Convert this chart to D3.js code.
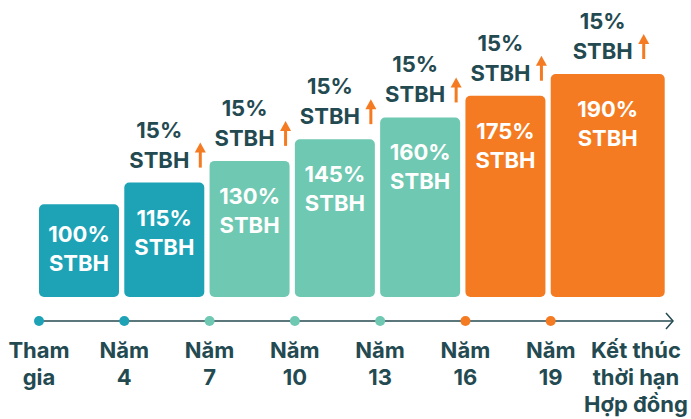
<!DOCTYPE html>
<html>
<head>
<meta charset="utf-8">
<script src="https://cdn.jsdelivr.net/npm/d3@7"></script>
<style>
  html, body { margin: 0; padding: 0; background: #fff; }
  svg { display: block; font-family: Inter, "Open Sans", sans-serif; font-weight: 700; }
</style>
</head>
<body>
<div id="chart"></div>
<script>
(function () {
    const W = 691, H = 419;

    // Data
    const stages = ["Tham gia", "Năm 4", "Năm 7", "Năm 10", "Năm 13", "Năm 16", "Năm 19", "Kết thúc thời hạn Hợp đồng"];
    const stageLines = [["Tham", "gia"], ["Năm", "4"], ["Năm", "7"], ["Năm", "10"], ["Năm", "13"], ["Năm", "16"], ["Năm", "19"], ["Kết thúc", "thời hạn", "Hợp đồng"]];
    const benefit = [100, 115, 130, 145, 160, 175, 190];
    const benefitGroup = ["a", "a", "b", "b", "b", "c", "c"];
    const stepLabel = "15%";
    const unit = "STBH";

    const color = d3.scaleOrdinal()
        .domain(["a", "b", "c"])
        .range(["#1ea3b6", "#6fc8b2", "#f47b22"]);
    const dark = "#244a51";
    const accent = "#f47b22";
    const fs = 22;

    const baseY = 297, axisY = 321;
    const x = d3.scaleLinear().domain([0, stages.length - 1]).range([39, 636]);
    const y = d3.scaleLinear().domain([36, 190]).range([baseY, 74]);
    const barW = i => (i === benefit.length - 1 ? 114 : 80);

    const svg = d3.select("#chart")
        .append("svg")
        .attr("width", W)
        .attr("height", H);

    // === Bars ===
    const bars = svg.selectAll(".bar")
        .data(benefit)
        .join("g")
        .attr("class", "bar");

    bars.append("rect")
        .attr("x", (d, i) => x(i))
        .attr("y", d => y(d))
        .attr("width", (d, i) => barW(i))
        .attr("height", d => baseY - y(d))
        .attr("rx", 5)
        .attr("fill", (d, i) => color(benefitGroup[i]));

    bars.each(function (d, i) {
        const g = d3.select(this);
        const cx = x(i) + barW(i) / 2;
        const top = y(d);
        const first = i === 0 ? top + 30 : top + 35;
        g.append("text")
            .attr("x", cx).attr("y", first)
            .attr("text-anchor", "middle").attr("dominant-baseline", "central")
            .attr("font-size", fs).attr("fill", "#fff")
            .text(d + "%");
        g.append("text")
            .attr("x", cx).attr("y", first + 29)
            .attr("text-anchor", "middle").attr("dominant-baseline", "central")
            .attr("font-size", fs).attr("fill", "#fff")
            .text(unit);

        // increase annotation
        if (i > 0) {
            const tx = cx - 5;
            g.append("text")
                .attr("x", tx).attr("y", top - 53)
                .attr("text-anchor", "middle").attr("dominant-baseline", "central")
                .attr("font-size", fs).attr("fill", dark)
                .text(stepLabel);
            g.append("text")
                .attr("x", tx).attr("y", top - 23)
                .attr("text-anchor", "middle").attr("dominant-baseline", "central")
                .attr("font-size", fs).attr("fill", dark)
                .text(unit);
            const ax = tx + 41, ab = top - 15, at = top - 40;
            g.append("line")
                .attr("x1", ax).attr("x2", ax)
                .attr("y1", ab).attr("y2", at + 8)
                .attr("stroke", accent).attr("stroke-width", 3);
            g.append("path")
                .attr("d", `M${ax - 5.5},${at + 10}L${ax},${at}L${ax + 5.5},${at + 10}Z`)
                .attr("fill", accent);
        }
    });

    // === Timeline ===
    svg.append("line")
        .attr("x1", x(0)).attr("x2", 673)
        .attr("y1", axisY).attr("y2", axisY)
        .attr("stroke", dark).attr("stroke-width", 1.5);
    svg.append("path")
        .attr("d", `M666,${axisY - 8}L673,${axisY}L666,${axisY + 8}`)
        .attr("fill", "none").attr("stroke", dark).attr("stroke-width", 1.5);

    svg.selectAll(".dot")
        .data(benefit)
        .join("circle")
        .attr("class", "dot")
        .attr("cx", (d, i) => x(i))
        .attr("cy", axisY)
        .attr("r", 5)
        .attr("fill", (d, i) => color(benefitGroup[i]));

    svg.selectAll(".stage")
        .data(stageLines)
        .join("text")
        .attr("class", "stage")
        .attr("x", (d, i) => x(i))
        .attr("y", 350)
        .attr("text-anchor", "middle")
        .attr("font-size", fs)
        .attr("fill", dark)
        .selectAll("tspan")
        .data(d => d)
        .join("tspan")
        .attr("x", function () { return d3.select(this.parentNode).attr("x"); })
        .attr("dy", (d, i) => (i === 0 ? "0.35em" : 27))
        .text(d => d);
})();
</script>
</body>
</html>
